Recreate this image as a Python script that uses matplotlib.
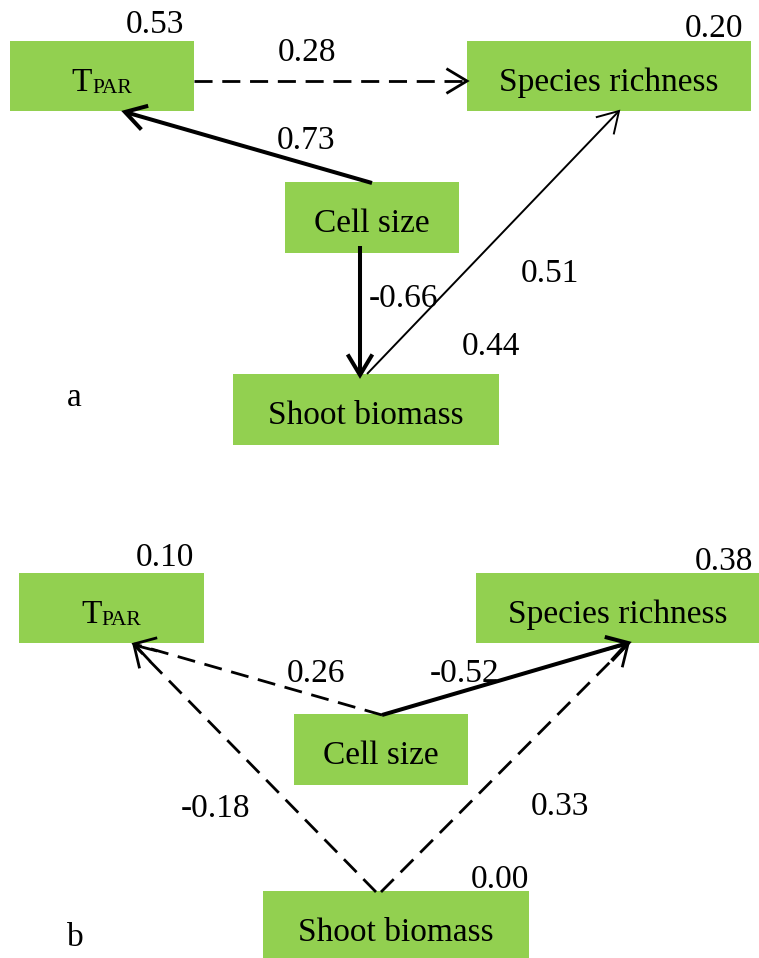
import numpy as np
import matplotlib
matplotlib.use("Agg")
import matplotlib.pyplot as plt
from matplotlib.patches import Rectangle

plt.rcParams['font.family'] = ['Liberation Serif', 'DejaVu Serif']

# path coefficients (from -> to), one list per model
paths_a = [('cell', 'tpar'), ('tpar', 'rich'), ('cell', 'shoot'), ('shoot', 'rich')]
coef_a = [0.73, 0.28, -0.66, 0.51]
style_a = ['thick', 'dash', 'thick', 'thin']

paths_b = [('cell', 'tpar'), ('cell', 'rich'), ('shoot', 'tpar'), ('shoot', 'rich')]
coef_b = [0.26, -0.52, -0.18, 0.33]
style_b = ['dash', 'thick', 'dash', 'dash']

# explained variance of endogenous variables
r2_a = {'tpar': 0.53, 'rich': 0.20, 'shoot': 0.44}
r2_b = {'tpar': 0.10, 'rich': 0.38, 'shoot': 0.00}

names = {'tpar': None, 'rich': 'Species richness', 'cell': 'Cell size',
         'shoot': 'Shoot biomass'}

GREEN = '#92d050'
FS = 24

# layout in pixel units (x0, y0, x1, y1)
boxes_a = {'tpar': (10, 41, 194, 111), 'rich': (467, 41, 751, 111),
           'cell': (285, 182, 459, 253), 'shoot': (233, 374, 499, 445)}
boxes_b = {'tpar': (19, 573, 204, 643), 'rich': (476, 573, 760, 643),
           'cell': (294, 714, 468, 785), 'shoot': (263, 891, 529, 962)}

# arrow start / tip points
ends_a = [((372, 183), (125, 112)), ((194, 81), (467, 81)),
          ((360, 246), (360, 375)), ((367, 374), (619, 111))]
ends_b = [((382, 715), (134, 644)), ((382, 715), (628, 643)),
          ((376, 892), (134, 645)), ((381, 892), (628, 644))]

# label anchors (x centre, baseline)
coef_pos_a = [(306, 149), (307, 61), (404, 307), (550, 282)]
coef_pos_b = [(316, 682), (465, 682), (216, 817), (560, 815)]
r2_pos_a = {'tpar': (155, 33), 'rich': (714, 37), 'shoot': (491, 355)}
r2_pos_b = {'tpar': (165, 566), 'rich': (724, 570), 'shoot': (500, 888)}

LW = {'thick': 2.9, 'thin': 1.4, 'dash': 2.0}


def arrow(ax, p0, p1, kind):
    x0, y0 = p0
    x1, y1 = p1
    lw = LW[kind]
    if kind == 'dash':
        ax.plot([x0, x1], [y0, y1], color='k', lw=lw, dashes=(6.5, 3.5),
                solid_capstyle='butt', dash_capstyle='butt')
    else:
        ax.plot([x0, x1], [y0, y1], color='k', lw=lw, solid_capstyle='butt')
    # open arrow head
    ang = np.arctan2(y0 - y1, x0 - x1)
    L, half = 24, np.radians(31)
    xs = [x1 + L * np.cos(ang + half), x1, x1 + L * np.cos(ang - half)]
    ys = [y1 + L * np.sin(ang + half), y1, y1 + L * np.sin(ang - half)]
    ax.plot(xs, ys, color='k', lw=lw, solid_joinstyle='miter',
            solid_capstyle='butt')


def node(ax, key, box):
    x0, y0, x1, y1 = box
    ax.add_patch(Rectangle((x0, y0), x1 - x0, y1 - y0, facecolor=GREEN,
                           edgecolor='none', zorder=0))
    xc = (x0 + x1) / 2
    base = y0 + 50
    if key == 'tpar':
        ax.text(xc - 10, base, 'T', fontsize=FS, ha='right', va='baseline')
        ax.text(xc - 10, base + 2, 'PAR', fontsize=15.5, ha='left', va='baseline')
    else:
        ax.text(xc, base, names[key], fontsize=FS, ha='center', va='baseline')


def panel(ax, boxes, paths, coefs, styles, ends, coef_pos, r2, r2_pos):
    for key, box in boxes.items():
        node(ax, key, box)
    for (p0, p1), kind in zip(ends, styles):
        arrow(ax, p0, p1, kind)
    for c, (x, y) in zip(coefs, coef_pos):
        ax.text(x, y, f'{c:.2f}', fontsize=FS, ha='center', va='baseline')
    for key, val in r2.items():
        x, y = r2_pos[key]
        ax.text(x, y, f'{val:.2f}', fontsize=FS, ha='center', va='baseline')


fig = plt.figure(figsize=(7.59, 9.58), dpi=100)
ax = fig.add_axes([0, 0, 1, 1])
ax.set_xlim(0, 759)
ax.set_ylim(958, 0)
ax.axis('off')

panel(ax, boxes_a, paths_a, coef_a, style_a, ends_a, coef_pos_a, r2_a, r2_pos_a)
panel(ax, boxes_b, paths_b, coef_b, style_b, ends_b, coef_pos_b, r2_b, r2_pos_b)

ax.text(74, 406, 'a', fontsize=FS, ha='center', va='baseline')
ax.text(75, 946, 'b', fontsize=FS, ha='center', va='baseline')

fig.savefig('out.png', dpi=100)
